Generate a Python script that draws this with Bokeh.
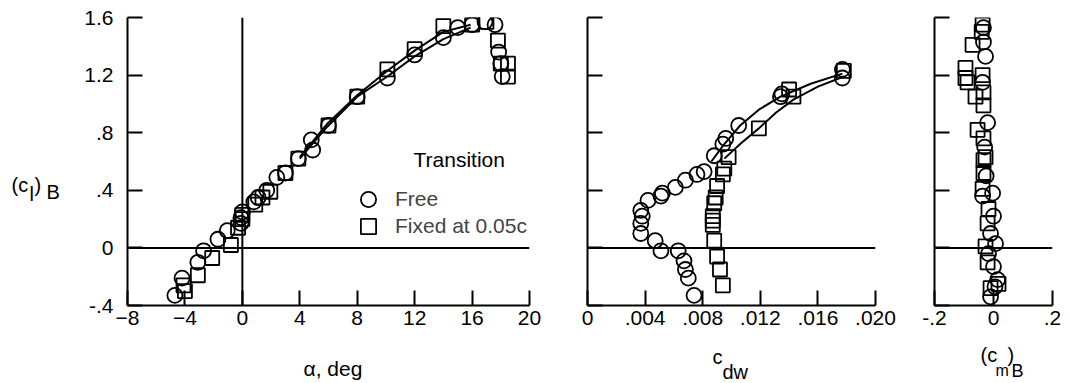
from bokeh.plotting import figure
from bokeh.layouts import row, column
from bokeh.models import FixedTicker, Span, Label, Legend, LegendItem, Range1d
from bokeh.core.properties import value
from bokeh.embed import file_html
from bokeh.resources import INLINE

FONT = "Liberation Sans"

# ---------------- data ----------------
# Lift curve: alpha (deg) vs (c_l)_B
alpha_free = [-4.7, -4.2, -3.1, -2.7, -1.7, -1.05, -0.1, -0.1, 0.0, 0.8, 1.1, 1.7, 2.4, 3.0,
              3.9, 4.8, 4.9, 6.0, 8.0, 10.1, 12.0, 14.0, 15.0, 16.0, 16.9, 17.6, 17.85, 18.0, 18.1]
cl_free = [-0.33, -0.21, -0.10, -0.02, 0.06, 0.12, 0.17, 0.21, 0.25, 0.32, 0.35, 0.40, 0.49, 0.52,
           0.62, 0.75, 0.68, 0.85, 1.05, 1.18, 1.34, 1.46, 1.53, 1.55, 1.57, 1.55, 1.36, 1.28, 1.19]
alpha_fixed = [-4.0, -4.1, -3.1, -2.1, -0.8, -0.3, 0.0, 0.0, 0.9, 1.4, 1.95, 3.0, 3.9, 6.0,
               8.0, 10.1, 12.0, 14.0, 16.0, 17.0, 17.8, 18.0, 18.5, 18.5]
cl_fixed = [-0.30, -0.26, -0.19, -0.07, 0.02, 0.14, 0.20, 0.23, 0.30, 0.35, 0.39, 0.52, 0.62, 0.85,
            1.05, 1.24, 1.38, 1.54, 1.55, 1.57, 1.44, 1.28, 1.28, 1.19]
fair_alpha_free = [4.0, 5.9, 8.0, 10.1, 12.0, 14.0, 15.9]
fair_cl_free = [0.62, 0.84, 1.05, 1.19, 1.33, 1.45, 1.53]
fair_alpha_fixed = [4.0, 5.9, 8.0, 10.1, 12.0, 14.0, 15.9]
fair_cl_fixed = [0.63, 0.86, 1.06, 1.23, 1.37, 1.50, 1.55]

# Drag polar: c_dw vs (c_l)_B
cdw_free = [0.0074, 0.0070, 0.0068, 0.0067, 0.0063, 0.0051, 0.0047, 0.0037, 0.0037, 0.0038,
            0.0037, 0.0042, 0.0051, 0.0052, 0.0061, 0.0068, 0.0076, 0.0081, 0.0088, 0.0094,
            0.0096, 0.0105, 0.0134, 0.0135, 0.0177, 0.0177]
cl_free_d = [-0.33, -0.21, -0.15, -0.09, -0.02, -0.02, 0.05, 0.10, 0.17, 0.22,
             0.26, 0.33, 0.36, 0.38, 0.42, 0.47, 0.51, 0.53, 0.64, 0.72,
             0.76, 0.85, 1.05, 1.07, 1.18, 1.24]
cdw_fixed = [0.0094, 0.0092, 0.0090, 0.0088, 0.0087, 0.0087, 0.0087, 0.0088, 0.0089, 0.0090,
             0.0094, 0.0095, 0.0098, 0.0119, 0.0143, 0.0140, 0.0178]
cl_fixed_d = [-0.26, -0.15, -0.06, 0.05, 0.16, 0.19, 0.22, 0.31, 0.35, 0.43,
              0.51, 0.55, 0.63, 0.83, 1.05, 1.10, 1.23]
fair_cdw_free = [0.0086, 0.0095, 0.0106, 0.0119, 0.0134, 0.0155, 0.0177]
fair_cld_free = [0.60, 0.72, 0.85, 0.96, 1.05, 1.14, 1.21]
fair_cdw_fixed = [0.0095, 0.0107, 0.0119, 0.0131, 0.0143, 0.0160, 0.0178]
fair_cld_fixed = [0.62, 0.73, 0.83, 0.94, 1.03, 1.12, 1.19]

# Pitching moment: (c_m)_B vs (c_l)_B
cm_free = [-0.034, -0.034, -0.027, -0.037, -0.020, -0.030, -0.025, -0.037, -0.003, 0.000,
           -0.010, 0.007, -0.017, 0.000, 0.014, 0.005, -0.010]
cl_free_m = [1.53, 1.43, 1.33, 1.15, 0.87, 0.70, 0.50, 0.36, 0.38, 0.22,
             0.10, 0.03, -0.04, -0.13, -0.22, -0.27, -0.34]
cm_fixed = [-0.037, -0.040, -0.071, -0.095, -0.095, -0.088, -0.037, -0.061, -0.034, -0.034,
            -0.054, -0.034, -0.027, -0.034, -0.034, -0.037, -0.017, -0.020, -0.027, -0.020,
            0.017, -0.010]
cl_fixed_m = [1.55, 1.50, 1.41, 1.25, 1.18, 1.15, 1.20, 1.05, 1.08, 0.99,
              0.82, 0.76, 0.63, 0.61, 0.52, 0.41, 0.27, 0.17, 0.01, -0.10,
              -0.25, -0.28]

cl_ticks = [-0.4, 0, 0.4, 0.8, 1.2, 1.6]
cl_tick_labels = ["-.4", "0", ".4", ".8", "1.2", "1.6"]
alpha_ticks = [-8, -4, 0, 4, 8, 12, 16, 20]
cdw_ticks = [0, 0.004, 0.008, 0.012, 0.016, 0.020]
cdw_tick_labels = ["0", ".004", ".008", ".012", ".016", ".020"]
cm_ticks = [-0.2, 0, 0.2]
cm_tick_labels = ["-.2", "0", ".2"]

EPS = 1e-9
RH = 336          # height of the row of panels
TOP = 17          # frame top
FH = 288          # frame height
BOT = RH - TOP - FH
XLAB_H = 45


def make_fig(width, xr, bl, br):
    p = figure(width=width, height=RH, x_range=Range1d(xr[0] - EPS, xr[1] + EPS),
               y_range=Range1d(-0.4 - EPS, 1.6 + EPS), output_backend="svg",
               toolbar_location=None, min_border_left=bl, min_border_right=br,
               min_border_top=TOP, min_border_bottom=BOT)
    p.outline_line_color = None
    p.grid.visible = False
    p.background_fill_color = "white"
    for ax in p.axis:
        ax.axis_line_width = 2
        ax.axis_line_color = "black"
        ax.major_tick_line_width = 2
        ax.major_tick_line_color = "black"
        ax.major_tick_in = 15
        ax.major_tick_out = 0
        ax.minor_tick_line_color = None
        ax.major_label_text_font = FONT
        ax.major_label_text_font_size = "21px"
        ax.major_label_text_color = "black"
    p.xaxis.major_label_standoff = 5
    p.yaxis.major_label_standoff = 14
    p.yaxis.ticker = FixedTicker(ticks=cl_ticks)
    p.yaxis.major_label_overrides = dict(zip(cl_ticks, cl_tick_labels))
    p.add_layout(Span(location=0, dimension="width", line_color="black", line_width=2))
    return p


def points(p, x, y, marker, size):
    return p.scatter(x, y, marker=marker, size=size, fill_alpha=0, line_color="black",
                     line_width=1.8)


def helper_fig(width, height, xr, yr, bt=0, bb=0):
    h = figure(width=width, height=height, x_range=Range1d(*xr), y_range=Range1d(*yr),
               x_axis_type=None, y_axis_type=None,
               output_backend="svg", toolbar_location=None, min_border_left=0,
               min_border_right=0, min_border_top=bt, min_border_bottom=bb)
    h.grid.visible = False
    h.outline_line_color = None
    return h


def words(h, xs, ys, texts, size="20px"):
    # ys are vertical centres of the text, in page pixels
    h.text(x=xs, y=ys, text=texts, text_font=value(FONT), text_font_size=value(size),
           text_align="left", text_baseline="middle", text_color="black")


# ---------- y label helper (page pixel coordinates) ----------
ylab = helper_fig(70, RH, (0, 70), (TOP + FH, TOP), bt=TOP, bb=BOT)
words(ylab, [11, 29, 34, 46], [184, 193, 184, 191], ["(c", "l", ")", "B"])

# ---------- panel 1: lift ----------
p1 = make_fig(490, (-8, 20), 57, 31)
p1.xaxis.ticker = FixedTicker(ticks=alpha_ticks)
p1.add_layout(Span(location=0, dimension="height", line_color="black", line_width=2))
p1.line(fair_alpha_free, fair_cl_free, line_color="black", line_width=2)
p1.line(fair_alpha_fixed, fair_cl_fixed, line_color="black", line_width=2)
r_free = points(p1, alpha_free, cl_free, "circle", 15)
r_fixed = points(p1, alpha_fixed, cl_fixed, "square", 14)

for item, loc in ((LegendItem(label="Free", renderers=[r_free]), (222, 87)),
                  (LegendItem(label="Fixed at 0.05c", renderers=[r_fixed]), (222, 60))):
    p1.add_layout(Legend(items=[item], location=loc, glyph_width=38, glyph_height=38,
                         padding=0, margin=0, label_standoff=8, label_text_font=FONT,
                         label_text_font_size="21px", background_fill_alpha=0,
                         border_line_color=None))
p1.add_layout(Label(x=11.92, y=0.615, text="Transition", text_font=FONT,
                    text_font_size="21px", text_baseline="middle", text_color="black"))

# ---------- panel 2: drag ----------
p2 = make_fig(345, (0, 0.020), 27, 30)
p2.xaxis.ticker = FixedTicker(ticks=cdw_ticks)
p2.xaxis.major_label_overrides = dict(zip(cdw_ticks, cdw_tick_labels))
p2.yaxis.major_label_overrides = {t: "" for t in cl_ticks}
p2.yaxis.major_label_standoff = 0
p2.line(fair_cdw_free, fair_cld_free, line_color="black", line_width=2)
p2.line(fair_cdw_fixed, fair_cld_fixed, line_color="black", line_width=2)
points(p2, cdw_free, cl_free_d, "circle", 15)
points(p2, cdw_fixed, cl_fixed_d, "square", 14)

# ---------- panel 3: moment ----------
p3 = make_fig(157, (-0.2, 0.2), 29, 10)
p3.xaxis.ticker = FixedTicker(ticks=cm_ticks)
p3.xaxis.major_label_overrides = dict(zip(cm_ticks, cm_tick_labels))
p3.yaxis.major_label_overrides = {t: "" for t in cl_ticks}
p3.yaxis.major_label_standoff = 0
points(p3, cm_free, cl_free_m, "circle", 15)
points(p3, cm_fixed, cl_fixed_m, "square", 14)

# ---------- x label helper (page pixel coordinates) ----------
total_w = 70 + 490 + 345 + 157
xlab = helper_fig(total_w, XLAB_H, (0, total_w), (RH + XLAB_H, RH))
words(xlab, [303], [368], ["α, deg"], size="21px")
words(xlab, [712, 722], [356, 371], ["c", "dw"])
words(xlab, [980, 1007], [354, 354], ["(c", ")"])
words(xlab, [995], [370], ["m"], size="16px")
words(xlab, [1011], [370], ["B"], size="18px")

layout = column(row(ylab, p1, p2, p3, spacing=0), xlab, spacing=0)
open("out.html", "w").write(file_html(layout, INLINE))
